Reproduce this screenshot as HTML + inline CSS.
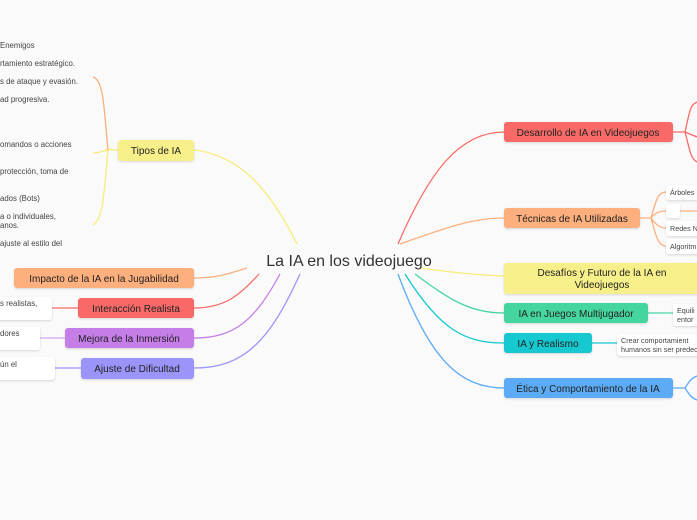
<!DOCTYPE html>
<html><head><meta charset="utf-8"><style>
html,body{margin:0;padding:0;background:#fafafa;}
svg{display:block;font-family:"Liberation Sans","DejaVu Sans",sans-serif;}
</style></head><body>
<svg width="697" height="520" viewBox="0 0 697 520" xmlns="http://www.w3.org/2000/svg">
<rect width="697" height="520" fill="#fafafa"/>
<defs><filter id="sh" x="-10%" y="-20%" width="120%" height="160%"><feDropShadow dx="0" dy="1" stdDeviation="1" flood-color="#000" flood-opacity="0.15"/></filter></defs>
<g fill="none" stroke-width="1.3">
<path d="M297 244 C270 190 240 155 194 150" stroke="#f7ec7c"/>
<path d="M247 268 C225 275 215 278 194 278" stroke="#fdb07d"/>
<path d="M259 274 C240 295 225 308 194 308" stroke="#f86b67"/>
<path d="M280 274 C255 320 235 338 194 338" stroke="#c57de8"/>
<path d="M300 274 C270 340 245 368 194 368" stroke="#9b95fa"/>
<path d="M118 150 C108 150 105 148 106 150" stroke="#f7ec7c"/>
<path d="M108 150 C104 110 104 80 93 77" stroke="#fdb07d"/>
<path d="M108 150 C104 190 104 218 93 225" stroke="#f7ec7c"/>
<path d="M108 150 C100 152 98 153 93 153" stroke="#f7ec7c"/>
<path d="M78 308 L52 308" stroke="#f86b67"/>
<path d="M65 338 L40 338" stroke="#d7a8f0"/>
<path d="M81 368 L55 368" stroke="#9b95fa"/>
<path d="M398 244 C430 170 460 132 504 132" stroke="#f86b67"/>
<path d="M400 244 C440 230 470 218 504 218" stroke="#fdb07d"/>
<path d="M420 268 C450 272 475 275 504 276" stroke="#f7ec7c"/>
<path d="M415 274 C450 300 470 313 504 313" stroke="#45d6a0"/>
<path d="M405 274 C440 330 465 343 504 343" stroke="#14c9d0"/>
<path d="M398 274 C430 360 460 388 504 388" stroke="#5cabf6"/>
<path d="M673 132 L685 132 M685 132 C690 110 690 105 697 102 M685 132 C690 150 690 158 697 162 M685 132 L697 137" stroke="#f86b67"/>
<path d="M640 218 L651 218 C656 200 658 192 666 192 M651 218 C656 212 660 211 666 211 M651 218 C656 225 660 228 666 228 M651 218 C656 236 658 246 666 246 M680 211 L697 211" stroke="#fdb07d"/>
<path d="M648 313 L673 313" stroke="#45d6a0"/>
<path d="M592 343 L617 343" stroke="#14c9d0"/>
<path d="M673 388 L685 388 C690 380 692 378 697 376 M685 388 C690 396 692 398 697 400" stroke="#5cabf6"/>
</g>
<text x="349" y="266" font-size="16" fill="#333" text-anchor="middle">La IA en los videojuego</text>
<g font-size="7.8" fill="#444">
<text x="0" y="48">Enemigos</text>
<text x="0" y="66">rtamiento estratégico.</text>
<text x="0" y="84">s de ataque y evasión.</text>
<text x="0" y="102">ad progresiva.</text>
<text x="0" y="147">omandos o acciones</text>
<text x="0" y="174">protección, toma de</text>
<text x="0" y="201">ados (Bots)</text>
<text x="0" y="219">a o individuales,</text>
<text x="0" y="228">anos.</text>
<text x="0" y="246">ajuste al estilo del</text>
</g>
<g filter="url(#sh)" fill="#fff">
<rect x="-5" y="297" width="57" height="23" rx="3"/>
<rect x="-5" y="327" width="45" height="23" rx="3"/>
<rect x="-5" y="357" width="60" height="23" rx="3"/>
</g>
<g font-size="7.8" fill="#444">
<text x="0" y="306">s realistas,</text>
<text x="0" y="336">dores</text>
<text x="0" y="367">ún el</text>
</g>
<g filter="url(#sh)">
<rect x="118" y="140" width="76" height="21" rx="3" fill="#f7f08a"/>
<rect x="14" y="268" width="180" height="20" rx="3" fill="#fdb07d"/>
<rect x="78" y="298" width="116" height="20" rx="3" fill="#f86b67"/>
<rect x="65" y="328" width="129" height="20" rx="3" fill="#c57de8"/>
<rect x="81" y="358" width="113" height="21" rx="3" fill="#9b95fa"/>
</g>
<g font-size="10" fill="#222" text-anchor="middle">
<text x="156" y="154">Tipos de IA</text>
<text x="104" y="282">Impacto de la IA en la Jugabilidad</text>
<text x="136" y="312">Interacción Realista</text>
<text x="129" y="342">Mejora de la Inmersión</text>
<text x="137" y="372">Ajuste de Dificultad</text>
</g>
<g filter="url(#sh)">
<rect x="504" y="122" width="169" height="20" rx="3" fill="#f86b67"/>
<rect x="504" y="208" width="136" height="20" rx="3" fill="#fdb07d"/>
<rect x="504" y="263" width="200" height="31" rx="3" fill="#f7f08a"/>
<rect x="504" y="303" width="144" height="20" rx="3" fill="#45d6a0"/>
<rect x="504" y="333" width="88" height="20" rx="3" fill="#14c9d0"/>
<rect x="504" y="378" width="169" height="20" rx="3" fill="#5cabf6"/>
<rect x="666" y="185" width="40" height="15" rx="3" fill="#fff"/>
<rect x="666" y="204" width="14" height="14" rx="3" fill="#fff"/>
<rect x="666" y="221" width="40" height="15" rx="3" fill="#fff"/>
<rect x="666" y="239" width="40" height="15" rx="3" fill="#fff"/>
<rect x="673" y="304" width="40" height="22" rx="3" fill="#fff"/>
<rect x="617" y="334" width="90" height="22" rx="3" fill="#fff"/>
</g>
<g font-size="10" fill="#222" text-anchor="middle">
<text x="588" y="136">Desarrollo de IA en Videojuegos</text>
<text x="572" y="222">Técnicas de IA Utilizadas</text>
<text x="602" y="276">Desafíos y Futuro de la IA en</text>
<text x="602" y="288">Videojuegos</text>
<text x="576" y="317">IA en Juegos Multijugador</text>
<text x="548" y="347">IA y Realismo</text>
<text x="588" y="392">Ética y Comportamiento de la IA</text>
</g>
<g font-size="7.2" fill="#444">
<text x="670" y="195">Árboles</text>
<text x="670" y="231">Redes N</text>
<text x="670" y="249">Algoritm</text>
<text x="677" y="313">Equili</text>
<text x="677" y="322">entor</text>
<text x="621" y="343">Crear comportamient</text>
<text x="621" y="352">humanos sin ser predec</text>
</g>
</svg>
</body></html>
